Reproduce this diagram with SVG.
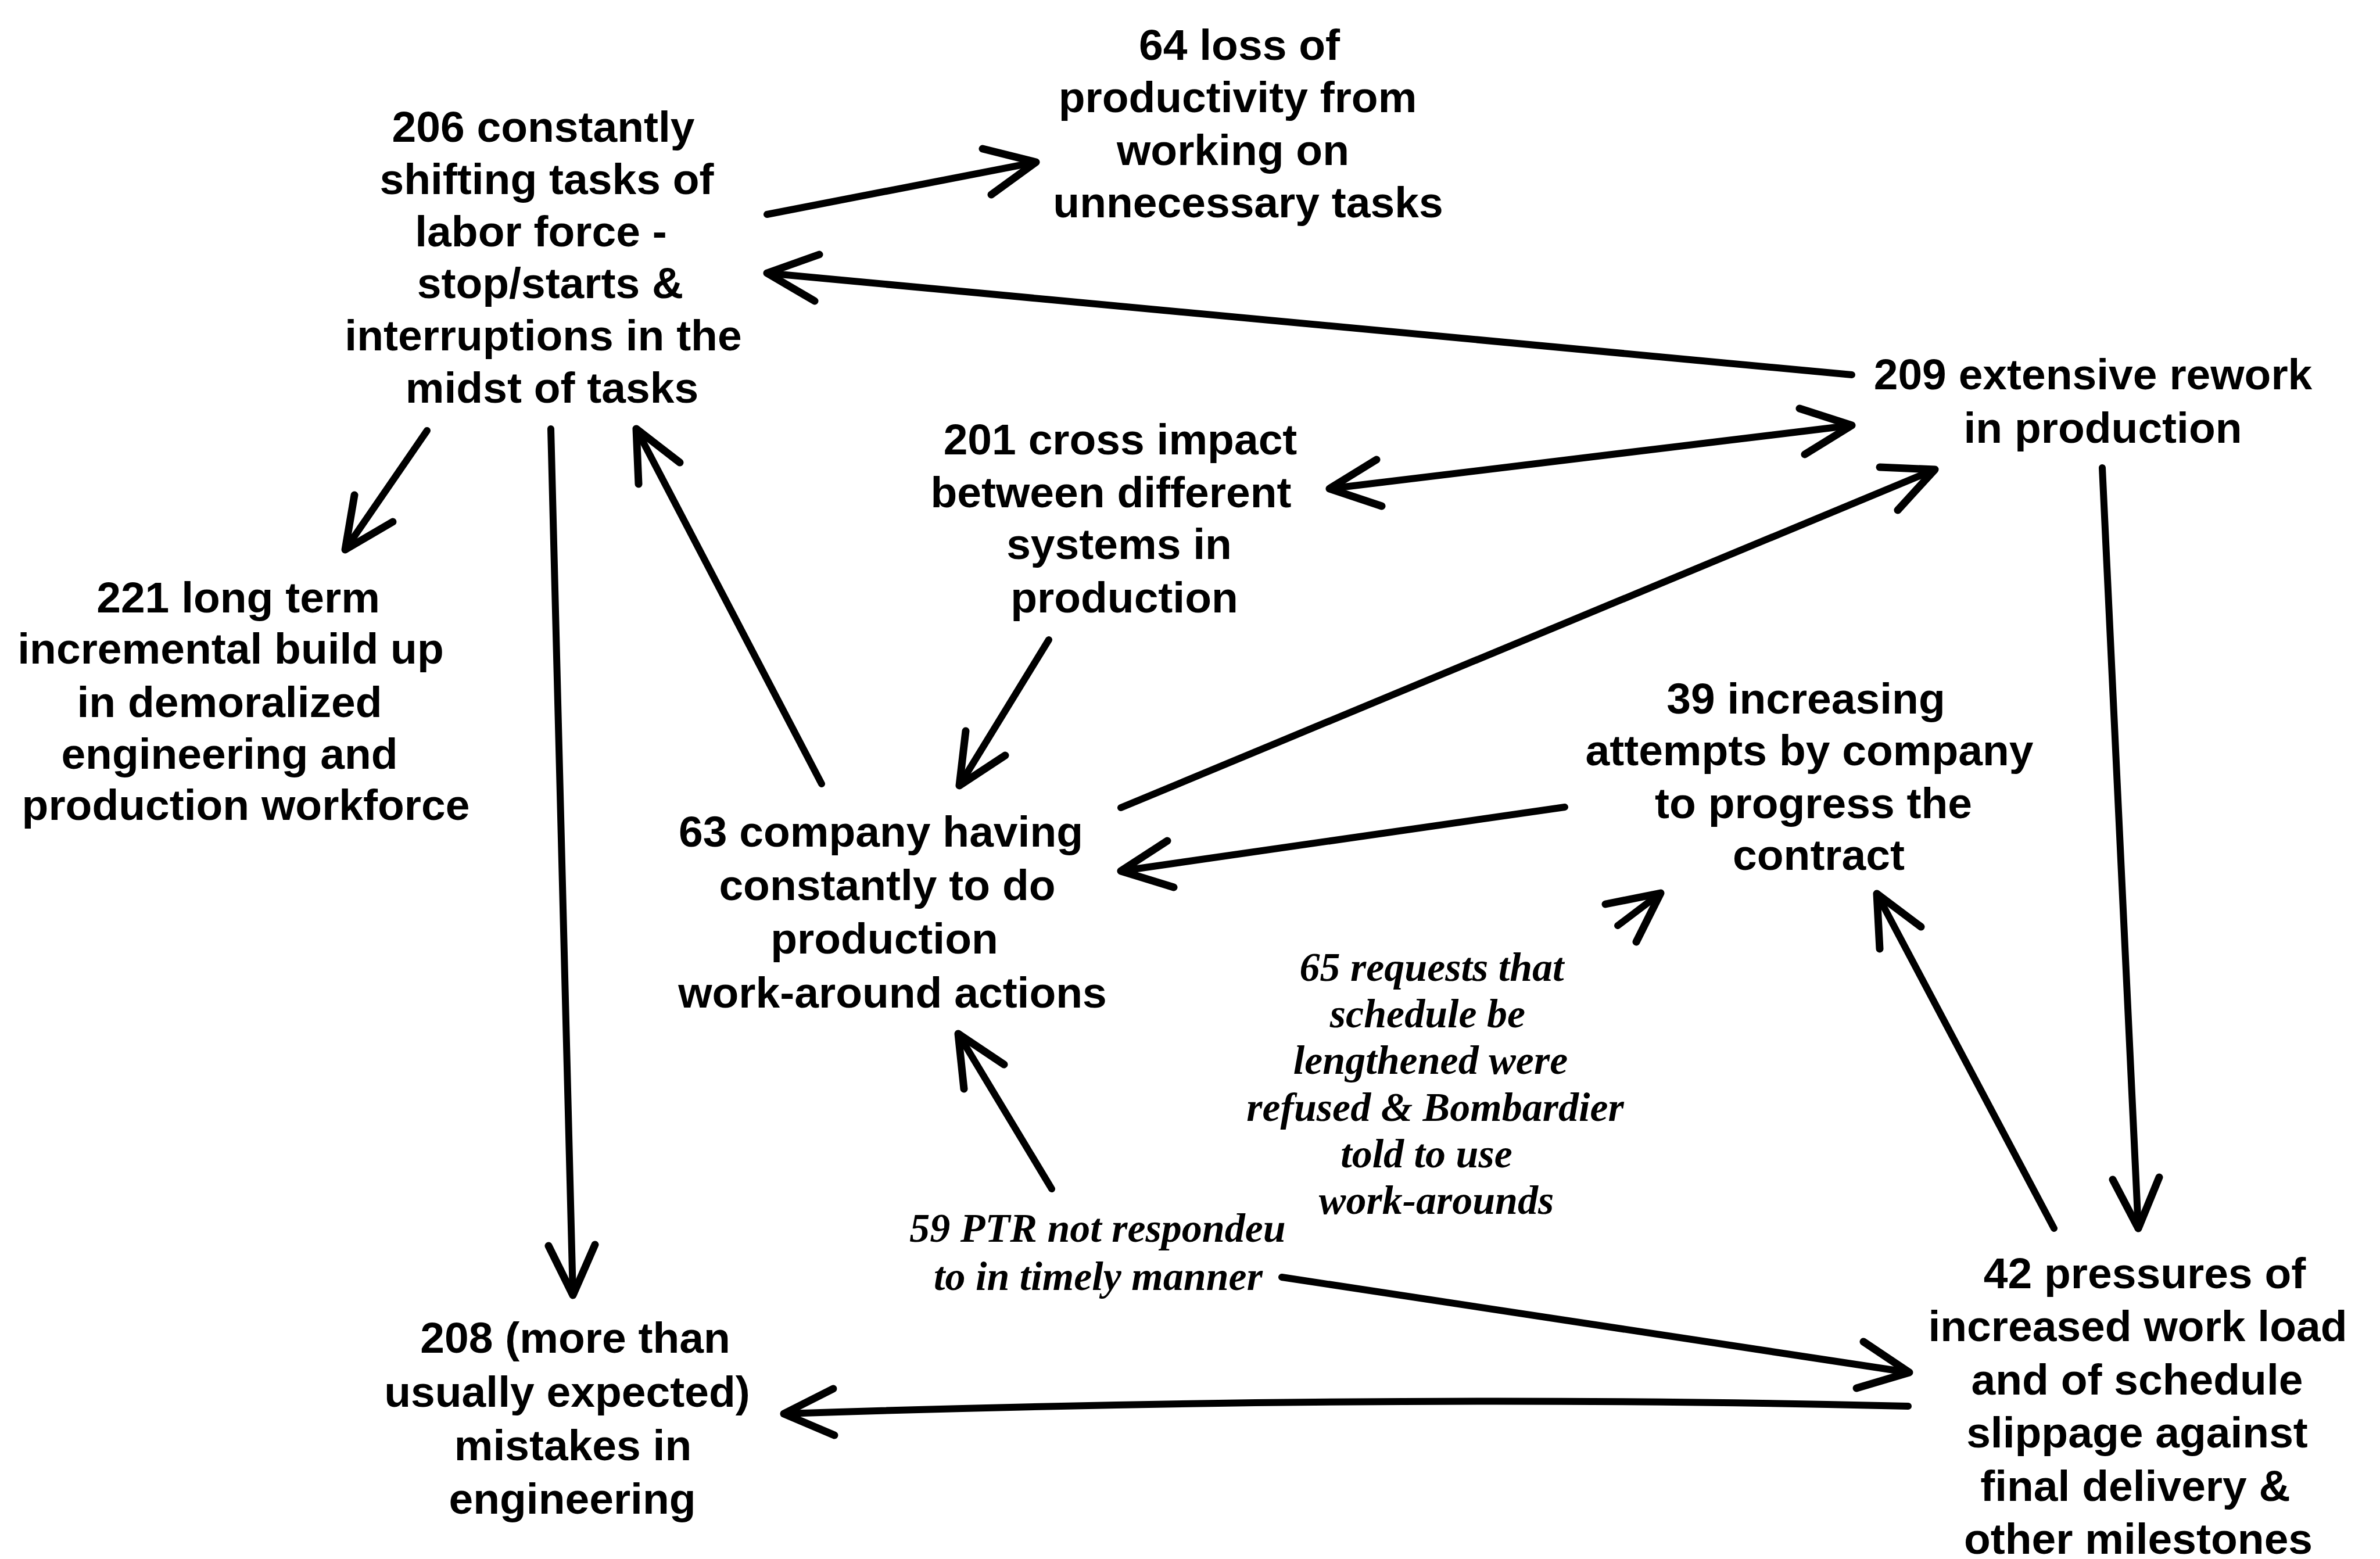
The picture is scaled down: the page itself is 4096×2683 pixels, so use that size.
<svg xmlns="http://www.w3.org/2000/svg" width="4096" height="2683" viewBox="0 0 4096 2683">
<style>
.b{font-family:"Liberation Sans",Arial,sans-serif;font-weight:bold;font-size:75px;text-anchor:middle;fill:#000}
.i{font-family:"Liberation Serif","Times New Roman",serif;font-style:italic;font-weight:bold;font-size:70px;text-anchor:middle;fill:#000}
.ln{fill:none;stroke:#000;stroke-width:12;stroke-linecap:round}
.hd{fill:none;stroke:#000;stroke-width:13;stroke-linecap:round;stroke-linejoin:round}
</style>
<rect width="4096" height="2683" fill="#fff"/>
<g id="connectors">
<path class="ln" d="M1320,369 L1783,279"/><path class="hd" d="M1691,256 L1783,279 L1706,335"/>
<path class="ln" d="M3187,645 L1320,470"/><path class="hd" d="M1402,518 L1320,470 L1410,438"/>
<path class="ln" d="M2288,841 L3187,732"/><path class="hd" d="M2378,871 L2288,841 L2369,791"/><path class="hd" d="M3097,703 L3187,732 L3106,782"/>
<path class="ln" d="M735,741 L594,946"/><path class="hd" d="M676,898 L594,946 L610,852"/>
<path class="ln" d="M948,738 L986,2229"/><path class="hd" d="M1024,2142 L986,2229 L944,2144"/>
<path class="ln" d="M1414,1349 L1095,738"/><path class="hd" d="M1099,833 L1095,738 L1170,796"/>
<path class="ln" d="M1805,1101 L1651,1352"/><path class="hd" d="M1730,1300 L1651,1352 L1662,1258"/>
<path class="ln" d="M1929,1390 L3330,808"/><path class="hd" d="M3235,804 L3330,808 L3266,878"/>
<path class="ln" d="M2693,1389 L1929,1499"/><path class="hd" d="M2020,1527 L1929,1499 L2009,1447"/>
<path class="ln" d="M2784,1593 L2858,1537"/><path class="hd" d="M2763,1556 L2858,1537 L2816,1621"/>
<path class="ln" d="M1810,2046 L1649,1779"/><path class="hd" d="M1659,1874 L1649,1779 L1728,1832"/>
<path class="ln" d="M2206,2198 L3286,2362"/><path class="hd" d="M3207,2309 L3286,2362 L3195,2389"/>
<path class="ln" d="M3284,2420 Q2400,2398 1349,2433"/><path class="hd" d="M1436,2470 L1349,2433 L1434,2390"/>
<path class="ln" d="M3618,805 L3680,2114"/><path class="hd" d="M3716,2026 L3680,2114 L3636,2030"/>
<path class="ln" d="M3535,2114 L3230,1538"/><path class="hd" d="M3235,1633 L3230,1538 L3306,1595"/>
</g>
<g id="n206">
<text class="b" x="935" y="244">206 constantly</text>
<text class="b" x="941" y="334">shifting tasks of</text>
<text class="b" x="931" y="424">labor force -</text>
<text class="b" x="947" y="513">stop/starts &amp;</text>
<text class="b" x="935" y="603">interruptions in the</text>
<text class="b" x="950" y="693">midst of tasks</text>
</g>
<g id="n64">
<text class="b" x="2133" y="103">64 loss of</text>
<text class="b" x="2130" y="193">productivity from</text>
<text class="b" x="2122" y="284">working on</text>
<text class="b" x="2148" y="374">unnecessary tasks</text>
</g>
<g id="n209">
<text class="b" x="3602" y="670">209 extensive rework</text>
<text class="b" x="3619" y="762">in production</text>
</g>
<g id="n201">
<text class="b" x="1928" y="782">201 cross impact</text>
<text class="b" x="1912" y="873">between different</text>
<text class="b" x="1926" y="962">systems in</text>
<text class="b" x="1935" y="1054">production</text>
</g>
<g id="n221">
<text class="b" x="410" y="1054">221 long term</text>
<text class="b" x="397" y="1142">incremental build up</text>
<text class="b" x="395" y="1234">in demoralized</text>
<text class="b" x="395" y="1323">engineering and</text>
<text class="b" x="423" y="1411">production workforce</text>
</g>
<g id="n39">
<text class="b" x="3108" y="1228">39 increasing</text>
<text class="b" x="3114" y="1317">attempts by company</text>
<text class="b" x="3121" y="1408">to progress the</text>
<text class="b" x="3130" y="1497">contract</text>
</g>
<g id="n63">
<text class="b" x="1516" y="1457">63 company having</text>
<text class="b" x="1527" y="1549">constantly to do</text>
<text class="b" x="1522" y="1641">production</text>
<text class="b" x="1536" y="1734">work-around actions</text>
</g>
<g id="n65">
<text class="i" x="2464" y="1688">65 requests that</text>
<text class="i" x="2457" y="1768">schedule be</text>
<text class="i" x="2462" y="1848">lengthened were</text>
<text class="i" x="2470" y="1929">refused &amp; Bombardier</text>
<text class="i" x="2455" y="2009">told to use</text>
<text class="i" x="2472" y="2089">work-arounds</text>
</g>
<g id="n59">
<text class="i" x="1889" y="2137">59 PTR not respondeu</text>
<text class="i" x="1890" y="2220">to in timely manner</text>
</g>
<g id="n208">
<text class="b" x="990" y="2328">208 (more than</text>
<text class="b" x="976" y="2421">usually expected)</text>
<text class="b" x="986" y="2513">mistakes in</text>
<text class="b" x="985" y="2605">engineering</text>
</g>
<g id="n42">
<text class="b" x="3691" y="2217">42 pressures of</text>
<text class="b" x="3679" y="2308">increased work load</text>
<text class="b" x="3678" y="2400">and of schedule</text>
<text class="b" x="3678" y="2491">slippage against</text>
<text class="b" x="3675" y="2583">final delivery &amp;</text>
<text class="b" x="3680" y="2674">other milestones</text>
</g>
</svg>
